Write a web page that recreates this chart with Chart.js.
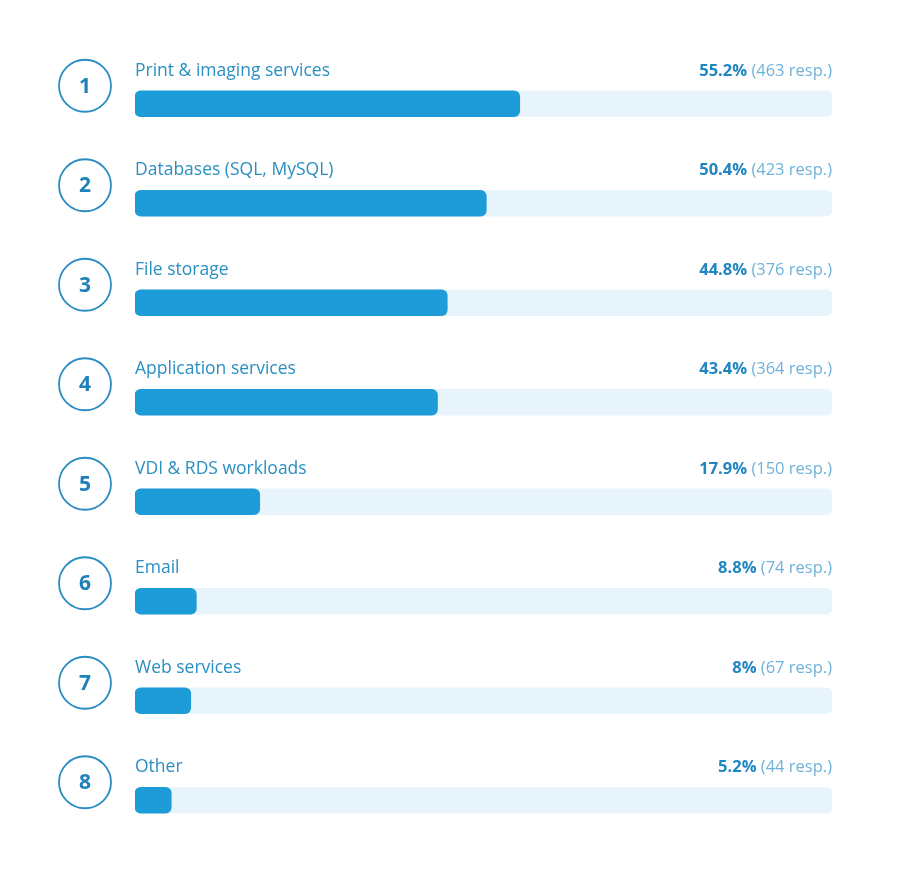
<!DOCTYPE html>
<html>
<head>
<meta charset="utf-8">
<script src="https://cdn.jsdelivr.net/npm/chart.js@4"></script>
<style>
  html, body { margin: 0; padding: 0; background: #fff; }
  #wrap { width: 900px; height: 870px; position: relative; }
</style>
</head>
<body>
<div id="wrap"><canvas id="chart"></canvas></div>
<script>
// Chart data
const categories = ['Print & imaging services', 'Databases (SQL, MySQL)', 'File storage', 'Application services',
    'VDI & RDS workloads', 'Email', 'Web services', 'Other'];
const percents = [55.2, 50.4, 44.8, 43.4, 17.9, 8.8, 8, 5.2];
const responses = [463, 423, 376, 364, 150, 74, 67, 44];
const trackValues = [100, 100, 100, 100, 100, 100, 100, 100];

const FONT = '"Open Sans", Lato, sans-serif';

// draws the numbered circles, labels and value text around each bar
const rowDecor = {
    id: 'rowDecor',
    afterDatasetsDraw(chart) {
        const ctx = chart.ctx;
        const meta = chart.getDatasetMeta(1);
        const left = chart.chartArea.left;
        const right = chart.chartArea.right;
        ctx.save();
        meta.data.forEach((bar, i) => {
            const cy = bar.y;
            const top = cy - bar.height / 2;
            const base = top - 15;

            // circle with rank number
            ctx.beginPath();
            ctx.arc(85, cy - 18, 26, 0, Math.PI * 2);
            ctx.lineWidth = 1.8;
            ctx.strokeStyle = '#2b8cc4';
            ctx.stroke();
            ctx.fillStyle = '#1f80ba';
            ctx.font = 'bold 21px ' + FONT;
            ctx.textAlign = 'center';
            ctx.textBaseline = 'middle';
            ctx.fillText(String(i + 1), 85, cy - 17);

            // category label
            ctx.textBaseline = 'alphabetic';
            ctx.textAlign = 'left';
            ctx.font = '17.5px ' + FONT;
            ctx.fillStyle = '#2a8fc2';
            ctx.fillText(categories[i], left, base);

            // value text, right aligned
            const rest = ' (' + responses[i] + ' resp.)';
            ctx.textAlign = 'right';
            ctx.font = '16.5px ' + FONT;
            ctx.fillStyle = '#6fb2da';
            ctx.fillText(rest, right, base);
            const restW = ctx.measureText(rest).width;
            ctx.font = 'bold 16.5px ' + FONT;
            ctx.fillStyle = '#1f86c2';
            ctx.fillText(percents[i] + '%', right - restW, base);
        });
        ctx.restore();
    }
};

new Chart(document.getElementById('chart').getContext('2d'), {
    type: 'bar',
    data: {
        labels: categories,
        datasets: [{
            label: 'track',
            data: trackValues,
            backgroundColor: '#e8f4fc',
            borderRadius: 6,
            borderSkipped: false,
            barThickness: 26,
            grouped: false,
            order: 2
        }, {
            label: 'Share',
            data: percents,
            backgroundColor: '#1e9cd8',
            borderRadius: 6,
            borderSkipped: false,
            barThickness: 26,
            grouped: false,
            order: 1
        }]
    },
    options: {
        indexAxis: 'y',
        responsive: true,
        maintainAspectRatio: false,
        animation: false,
        layout: {
            padding: { left: 135, right: 68, top: 54, bottom: 20 }
        },
        plugins: {
            legend: { display: false },
            tooltip: { enabled: false }
        },
        scales: {
            x: { display: false, min: 0, max: 100 },
            y: { display: false }
        }
    },
    plugins: [rowDecor]
});
</script>
</body>
</html>
